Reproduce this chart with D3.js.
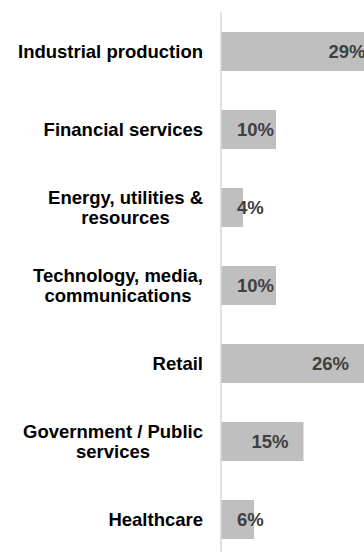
<!DOCTYPE html>
<html>
<head>
<meta charset="utf-8">
<script src="https://cdn.jsdelivr.net/npm/d3@7"></script>
<style>
  html, body { margin: 0; padding: 0; background: #fff; }
  svg { display: block; }
</style>
</head>
<body>
<svg id="chart" width="364" height="552"></svg>
<script>
// Sectors (line breaks mark where the label wraps)
const categories = [
  "Industrial production",
  "Financial services",
  "Energy, utilities &\nresources",
  "Technology, media,\ncommunications",
  "Retail",
  "Government / Public\nservices",
  "Healthcare"
];
// Share of respondents, percent
const values = [29, 10, 4, 10, 26, 15, 6];

const W = 364, H = 552;
const svg = d3.select("#chart");
const font = "'Liberation Sans', Arial, sans-serif";
const fontSize = 18.5;

const axisX = 221;
const y = d3.scaleBand()
  .domain(categories)
  .range([12.5, 12.5 + categories.length * 78])
  .paddingInner(0.5)
  .paddingOuter(0.25);

const x = d3.scaleLinear().domain([0, 30]).range([axisX, axisX + 165]);

// bars
svg.append("g").selectAll("rect")
  .data(categories)
  .join("rect")
  .attr("x", x(0))
  .attr("y", d => y(d))
  .attr("width", (d, i) => x(values[i]) - x(0))
  .attr("height", y.bandwidth())
  .attr("fill", "#bfbfbf");

// vertical axis line
svg.append("line")
  .attr("x1", axisX).attr("x2", axisX)
  .attr("y1", y.range()[0]).attr("y2", H)
  .attr("stroke", "#d9d9d9")
  .attr("stroke-width", 1.6);

// category labels: block right-aligned, lines centred within the block
const lineH = 19.5;
const labelRight = 203;
const catG = svg.append("g")
  .attr("font-family", font)
  .attr("font-weight", "bold")
  .attr("font-size", fontSize)
  .attr("fill", "#000");

categories.forEach(c => {
  const lines = c.split("\n");
  const cy = y(c) + y.bandwidth() / 2;
  const t = catG.append("text").attr("text-anchor", "middle");
  const spans = lines.map((ln, k) => t.append("tspan")
    .attr("y", cy + (k - (lines.length - 1) / 2) * lineH)
    .attr("dy", "0.35em")
    .text(ln));
  const wMax = d3.max(spans, s => s.node().getComputedTextLength());
  spans.forEach(s => s.attr("x", labelRight - wMax / 2));
});

// value labels: inside the bar end, but never closer than a fixed inset to the axis
const valG = svg.append("g")
  .attr("font-family", font)
  .attr("font-weight", "bold")
  .attr("font-size", fontSize)
  .attr("fill", "#404040");

categories.forEach((c, i) => {
  const t = valG.append("text")
    .attr("y", y(c) + y.bandwidth() / 2)
    .attr("dy", "0.35em")
    .text(values[i] + "%");
  const w = t.node().getComputedTextLength();
  const left = Math.max(x(values[i]) - 15 - w, axisX + 16);
  t.attr("x", left);
});
</script>
</body>
</html>
